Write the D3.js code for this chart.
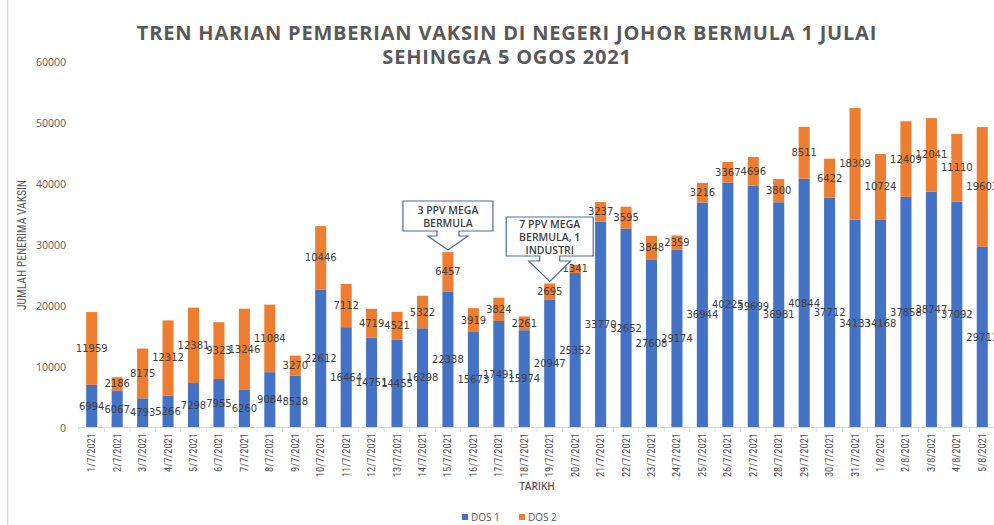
<!DOCTYPE html>
<html><head><meta charset="utf-8">
<script src="https://cdn.jsdelivr.net/npm/d3@7/dist/d3.min.js"></script>
<style>
html,body{margin:0;padding:0;background:#fff;}
svg{display:block;}
</style></head>
<body>
<svg id="chart" width="994" height="525"></svg>
<script>
const dates = ["1/7/2021","2/7/2021","3/7/2021","4/7/2021","5/7/2021","6/7/2021","7/7/2021","8/7/2021","9/7/2021","10/7/2021","11/7/2021","12/7/2021","13/7/2021","14/7/2021","15/7/2021","16/7/2021","17/7/2021","18/7/2021","19/7/2021","20/7/2021","21/7/2021","22/7/2021","23/7/2021","24/7/2021","25/7/2021","26/7/2021","27/7/2021","28/7/2021","29/7/2021","30/7/2021","31/7/2021","1/8/2021","2/8/2021","3/8/2021","4/8/2021","5/8/2021"];
const dos1 = [6994,6067,4793,5266,7298,7955,6260,9084,8528,22612,16464,14751,14455,16298,22338,15673,17491,15974,20947,25352,33770,32652,27608,29174,36944,40225,39699,36981,40844,37712,34133,34168,37858,38747,37092,29711];
const dos2 = [11959,2186,8175,12312,12381,9323,13246,11084,3270,10446,7112,4719,4521,5322,6457,3919,3824,2261,2695,1341,3237,3595,3848,2359,3216,3367,4696,3800,8511,6422,18309,10724,12409,12041,11110,19603];
const seriesNames = ["DOS 1","DOS 2"];
const yTicks = [0,10000,20000,30000,40000,50000,60000];
const titleLines = ["TREN HARIAN PEMBERIAN VAKSIN DI NEGERI JOHOR BERMULA 1 JULAI","SEHINGGA 5 OGOS 2021"];
const callouts = [
  {date:"15/7/2021", lines:["3 PPV MEGA","BERMULA"]},
  {date:"19/7/2021", lines:["7 PPV MEGA","BERMULA, 1","INDUSTRI"]}
];

const colors = ["#4472C4","#ED7D31"];
const svg = d3.select("#chart");

// left border line
svg.append("line").attr("x1",7.5).attr("x2",7.5).attr("y1",0).attr("y2",525)
  .attr("stroke","#d9d9d9").attr("stroke-width",1.5);

const x = d3.scaleBand().domain(dates).range([79,995]).paddingInner(0.565).paddingOuter(0.2825);
const y = d3.scaleLinear().domain([0,60000]).range([427.5,62]);

// title
svg.append("g").selectAll("text").data(titleLines).join("text")
  .attr("x",507).attr("y",(d,i)=>40+i*24)
  .attr("text-anchor","middle")
  .attr("font-family","Open Sans, sans-serif").attr("font-weight","bold")
  .attr("font-size",20).attr("letter-spacing",0.8).attr("fill","#595959").text(d=>d);

// y axis labels
svg.append("g").selectAll("text").data(yTicks).join("text")
  .attr("x",66).attr("y",d=>y(d)+4)
  .attr("text-anchor","end")
  .attr("font-family","Open Sans, sans-serif").attr("font-size",10.5)
  .attr("fill","#595959").text(d=>d);

// y title
svg.append("text")
  .attr("transform","translate(26,245) rotate(-90)")
  .attr("text-anchor","middle")
  .attr("font-family","Liberation Sans Narrow, Roboto Condensed, Roboto, sans-serif")
  .attr("font-size",13).attr("fill","#595959")
  .attr("textLength",130).attr("lengthAdjust","spacingAndGlyphs")
  .text("JUMLAH PENERIMA VAKSIN");

// stacked data
const rows = dates.map((d,i)=>({date:d, v:[dos1[i],dos2[i]]}));
const segs = [];
rows.forEach(r=>{
  let base=0;
  r.v.forEach((val,si)=>{segs.push({date:r.date, s:si, y0:base, y1:base+val, val}); base+=val;});
});

svg.append("g").selectAll("rect").data(segs).join("rect")
  .attr("x",d=>x(d.date)).attr("width",x.bandwidth())
  .attr("y",d=>y(d.y1)).attr("height",d=>y(d.y0)-y(d.y1))
  .attr("fill",d=>colors[d.s]);

// x axis
const xAxisG = svg.append("g");
xAxisG.append("line").attr("x1",78).attr("x2",994).attr("y1",427.5).attr("y2",427.5)
  .attr("stroke","#d9d9d9").attr("stroke-width",1);
const step = x.step();
const tickPos = d3.range(dates.length+1).map(i=>x(dates[0]) - x.paddingInner()*step/2 + i*step);
xAxisG.selectAll("line.t").data(tickPos).join("line").attr("class","t")
  .attr("x1",d=>d).attr("x2",d=>d).attr("y1",427.5).attr("y2",432)
  .attr("stroke","#d9d9d9");
xAxisG.selectAll("text").data(dates).join("text")
  .attr("transform",d=>`translate(${x(d)+x.bandwidth()/2+3.5},433) rotate(-90)`)
  .attr("text-anchor","end")
  .attr("font-family","Liberation Sans Narrow, Roboto Condensed, Roboto, sans-serif")
  .attr("font-size",10.5).attr("fill","#595959").text(d=>d);

// data labels
svg.append("g").selectAll("text").data(segs).join("text")
  .attr("x",d=>x(d.date)+x.bandwidth()/2)
  .attr("y",d=>(y(d.y0)+y(d.y1))/2+3.5)
  .attr("text-anchor","middle")
  .attr("font-family","DejaVu Sans, sans-serif").attr("font-size",10)
  .attr("fill","#404040").text(d=>d.val);

// x title
svg.append("text").attr("x",537).attr("y",490).attr("text-anchor","middle")
  .attr("font-family","Open Sans, sans-serif").attr("font-weight","600")
  .attr("font-size",10).attr("fill","#595959").text("TARIKH");

// legend
const leg = svg.append("g");
const legX = [462,519];
seriesNames.forEach((n,i)=>{
  leg.append("rect").attr("x",legX[i]).attr("y",514).attr("width",6).attr("height",6).attr("fill",colors[i]);
  leg.append("text").attr("x",legX[i]+9).attr("y",520.5)
    .attr("font-family","Open Sans, sans-serif").attr("font-size",10)
    .attr("fill","#595959").text(n);
});

// callouts
const calloutGeom = [
  {w:90, top:201, bot:231, shaftHalf:11, wingY:236, wingHalf:20},
  {w:87, top:217, bot:256, shaftHalf:10, wingY:261, wingHalf:21}
];
callouts.forEach((c,i)=>{
  const g = calloutGeom[i];
  const cx = x(c.date)+x.bandwidth()/2;
  const total = dos1[dates.indexOf(c.date)] + dos2[dates.indexOf(c.date)];
  const tipY = y(total)-2;
  const l = cx-g.w/2, r = cx+g.w/2;
  const pts = [[l,g.top],[r,g.top],[r,g.bot],[cx+g.shaftHalf,g.bot],[cx+g.shaftHalf,g.wingY],[cx+g.wingHalf,g.wingY],
    [cx,tipY],[cx-g.wingHalf,g.wingY],[cx-g.shaftHalf,g.wingY],[cx-g.shaftHalf,g.bot],[l,g.bot]];
  svg.append("path").attr("d","M"+pts.map(p=>p.join(",")).join("L")+"Z")
    .attr("fill","#fff").attr("stroke","#4a6aa8").attr("stroke-width",1.2);
  const lh = 13;
  const midY = (g.top+g.bot)/2 - (c.lines.length-1)*lh/2;
  c.lines.forEach((t,j)=>{
    svg.append("text").attr("x",cx).attr("y",midY+j*lh+4)
      .attr("text-anchor","middle").attr("font-family","Open Sans, sans-serif")
      .attr("font-weight","600").attr("font-size",10.5).attr("fill","#404040").text(t);
  });
});
</script>
</body></html>
